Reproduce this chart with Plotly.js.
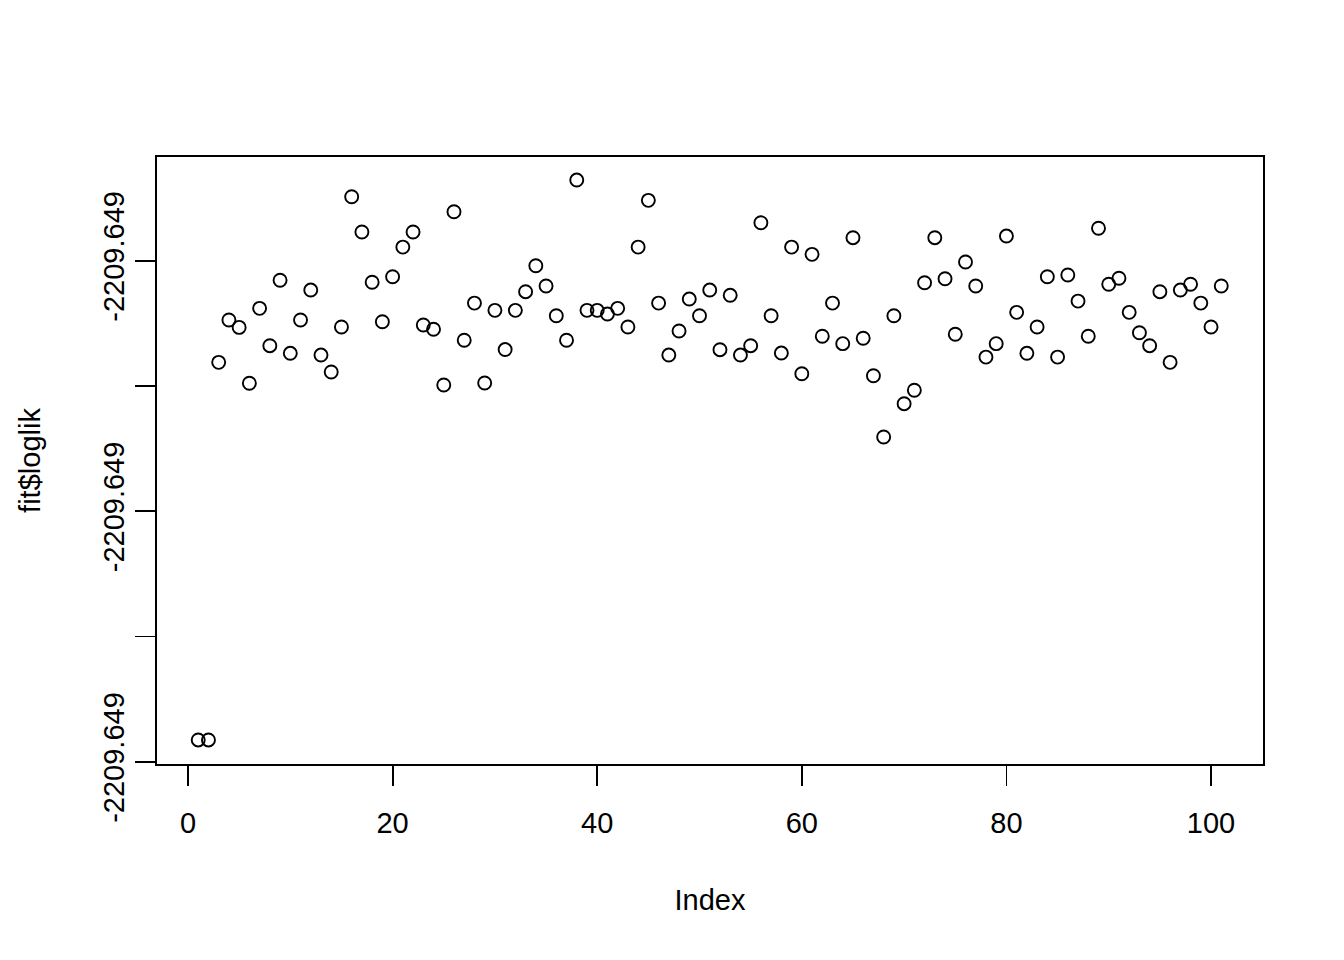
<!DOCTYPE html>
<html>
<head>
<meta charset="utf-8">
<script src="https://cdn.plot.ly/plotly-3.0.1.min.js"></script>
<style>html,body{margin:0;padding:0;background:#fff;}#chart{width:1344px;height:960px;}</style>
</head>
<body>
<div id="chart"></div>
<script>
// fit$loglik values, expressed in y-axis tick steps above the lowest tick
// (all ticks print as -2209.649 because the differences are below display precision)
var index = [];
for (var i = 1; i <= 101; i++) index.push(i);
var loglik = [
  0.175, 0.175, 3.189, 3.527, 3.468, 3.022, 3.620, 3.322, 3.844, 3.261,
  3.527, 3.766, 3.247, 3.112, 3.471, 4.511, 4.229, 3.828, 3.513, 3.872,
  4.109, 4.229, 3.487, 3.453, 3.008, 4.391, 3.365, 3.662, 3.024, 3.604,
  3.291, 3.604, 3.753, 3.960, 3.798, 3.561, 3.365, 4.644, 3.604, 3.604,
  3.575, 3.620, 3.471, 4.109, 4.482, 3.662, 3.247, 3.439, 3.694, 3.561,
  3.766, 3.290, 3.724, 3.247, 3.322, 4.303, 3.561, 3.263, 4.109, 3.098,
  4.051, 3.397, 3.662, 3.338, 4.184, 3.381, 3.082, 2.593, 3.561, 2.859,
  2.966, 3.824, 4.184, 3.856, 3.413, 3.990, 3.798, 3.231, 3.338, 4.197,
  3.588, 3.261, 3.471, 3.872, 3.231, 3.886, 3.678, 3.397, 4.259, 3.812,
  3.860, 3.588, 3.425, 3.322, 3.753, 3.189, 3.766, 3.812, 3.662, 3.471,
  3.798
];
var xTicks = [0, 20, 40, 60, 80, 100];
var yTicks = [0, 1, 2, 3, 4];
var yTickLabels = ['-2209.649', '', '-2209.649', '', '-2209.649'];

var trace = {
  x: index, y: loglik, type: 'scatter', mode: 'markers',
  marker: {symbol: 'circle-open', size: 13, color: '#000', line: {width: 1.9, color: '#000'}},
  hoverinfo: 'x+y'
};
var font = {family: 'Liberation Sans, Arial, Helvetica, sans-serif', size: 29, color: '#000'};
var layout = {
  width: 1344, height: 960,
  paper_bgcolor: '#fff', plot_bgcolor: '#fff',
  margin: {l: 157, r: 81, t: 157, b: 196},
  showlegend: false,
  font: font,
  xaxis: {
    range: [-3.03, 105.08], tickmode: 'array', tickvals: xTicks, ticktext: xTicks.map(String),
    showgrid: false, zeroline: false, showline: true, mirror: true, linecolor: '#000', linewidth: 1.8,
    ticks: 'outside', ticklen: 20, tickwidth: 1.8, tickcolor: '#000',
    tickfont: font, ticklabelstandoff: 12,
    title: {text: 'Index', font: font, standoff: 52}
  },
  yaxis: {
    range: [-0.017, 4.828], tickmode: 'array', tickvals: yTicks, ticktext: yTickLabels,
    showgrid: false, zeroline: false, showline: true, mirror: true, linecolor: '#000', linewidth: 1.8,
    ticks: 'outside', ticklen: 20, tickwidth: 1.8, tickcolor: '#000',
    tickangle: -90, tickfont: font,
    title: {text: 'fit$loglik', font: font, standoff: 48}
  }
};
Plotly.newPlot('chart', [trace], layout, {displayModeBar: false, staticPlot: true});
</script>
</body>
</html>
